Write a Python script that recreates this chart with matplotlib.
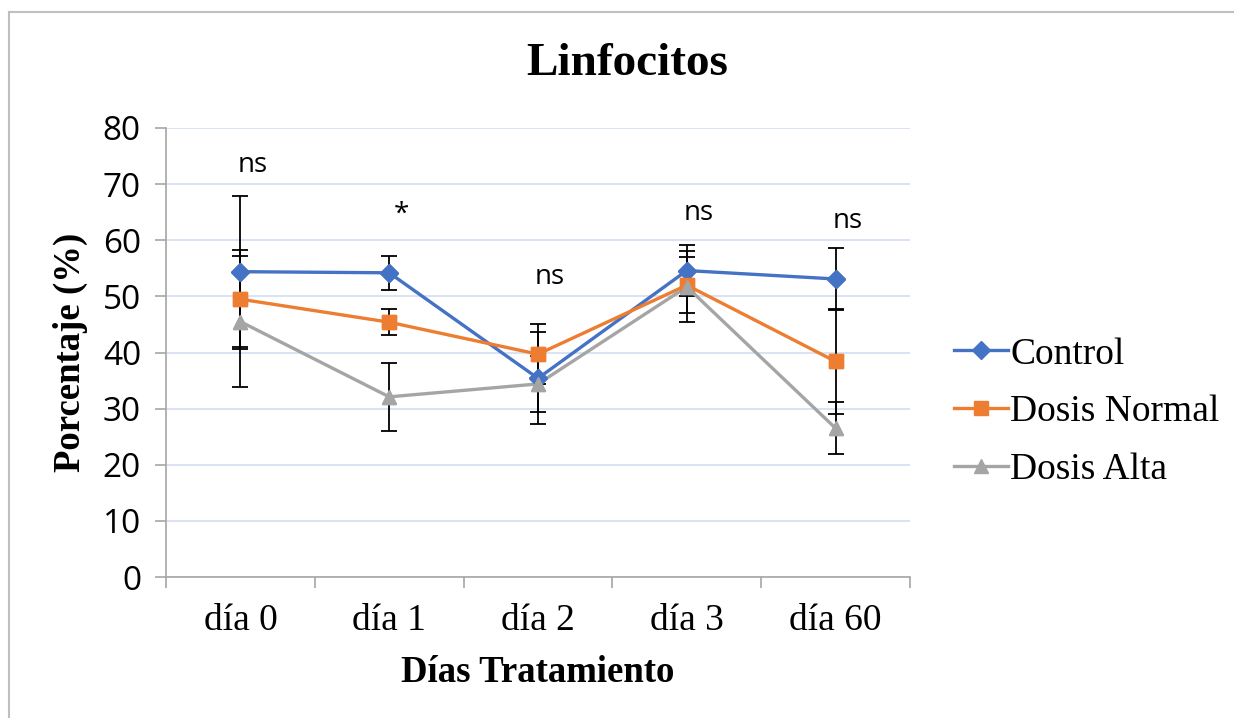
import matplotlib.pyplot as plt
from matplotlib.lines import Line2D
import numpy as np

# Lymphocyte percentage per treatment day, mean and error
categories = ['día 0', 'día 1', 'día 2', 'día 3', 'día 60']
control = [54.4, 54.2, 35.4, 54.6, 53.1]
control_err = [13.5, 3.0, 8.2, 4.5, 5.6]
normal = [49.5, 45.4, 39.7, 52.0, 38.4]
normal_err = [8.8, 2.3, 5.4, 5.0, 9.3]
alta = [45.5, 32.1, 34.4, 51.7, 26.5]
alta_err = [11.7, 6.1, 5.0, 6.3, 4.6]

# significance marks above each day
signif = ['ns', '*', 'ns', 'ns', 'ns']
signif_y = [73.4, 64.5, 53.5, 64.9, 63.4]

serif = 'Liberation Serif'
sans = 'Open Sans'

fig = plt.figure(figsize=(12.34, 7.18), dpi=100)
ax = fig.add_axes([166 / 1234, 1 - 577 / 718, 744 / 1234, 449 / 718])

x = np.arange(len(categories))
series = [
    ('Control', control, control_err, '#4472C4', 'D', 9),
    ('Dosis Normal', normal, normal_err, '#ED7D31', 's', 10),
    ('Dosis Alta', alta, alta_err, '#A5A5A5', '^', 10),
]

for name, vals, err, color, marker, ms in series:
    ax.errorbar(x, vals, yerr=err, fmt='none', ecolor='black', elinewidth=1.3,
                capsize=6, capthick=1.3, zorder=2)
    ax.plot(x, vals, color=color, lw=2.4, marker=marker, markersize=ms,
            markeredgecolor=color, label=name, zorder=3)
# markers on top of error bars
for name, vals, err, color, marker, ms in series:
    ax.plot(x, vals, ls='none', marker=marker, markersize=ms, color=color, zorder=4)

for xi, s, yy in zip(x, signif, signif_y):
    ax.text(xi + 0.08, yy, s, ha='center', va='center', fontsize=20, family=sans)

ax.set_xlim(-0.5, len(categories) - 0.5)
ax.set_ylim(0, 80)
ax.set_yticks(range(0, 81, 10))
ax.yaxis.grid(True, color='#D3DEF1', lw=1.2)
ax.set_axisbelow(True)

ax.set_xticks(x)
ax.set_xticklabels(categories, family=serif, fontsize=27)
ax.set_xticks(np.arange(-0.5, len(categories)), minor=True)
ax.tick_params(axis='x', which='major', length=0, pad=19)
ax.tick_params(axis='x', which='minor', length=8, color='#A6A6A6', width=1.2)
ax.tick_params(axis='y', length=8, color='#A6A6A6', width=1.2, pad=10, labelsize=24)
for lab in ax.get_yticklabels():
    lab.set_family(sans)

for side in ['top', 'right']:
    ax.spines[side].set_visible(False)
for side in ['left', 'bottom']:
    ax.spines[side].set_color('#A6A6A6')
    ax.spines[side].set_linewidth(1.2)

ax.set_xlabel('Días Tratamiento', family=serif, fontsize=26.5, fontweight='bold')
ax.set_ylabel('Porcentaje (%)', family=serif, fontsize=26.5, fontweight='bold')
ax.xaxis.set_label_coords(0.5, (577 - 672) / 449)
ax.yaxis.set_label_coords((70 - 166) / 744, 0.5)
ax.xaxis.label.set_va('center')
ax.yaxis.label.set_va('center')
fig.text(627 / 1234, 1 - 64 / 718, 'Linfocitos', ha='center', va='center',
         family=serif, fontsize=34, fontweight='bold')

fig.legend(loc='center left', bbox_to_anchor=(939 / 1234, 1 - 412 / 718),
           frameon=False, prop={'family': serif, 'size': 27},
           handlelength=1.45, handletextpad=0.05, labelspacing=0.62, borderaxespad=0)

# outer chart border
fig.add_artist(Line2D([9 / 1234, 1.0], [1 - 12 / 718] * 2, color='#BFBFBF', lw=1.5))
fig.add_artist(Line2D([9 / 1234] * 2, [0.0, 1 - 12 / 718], color='#BFBFBF', lw=1.5))

fig.savefig('out.png', dpi=100)
